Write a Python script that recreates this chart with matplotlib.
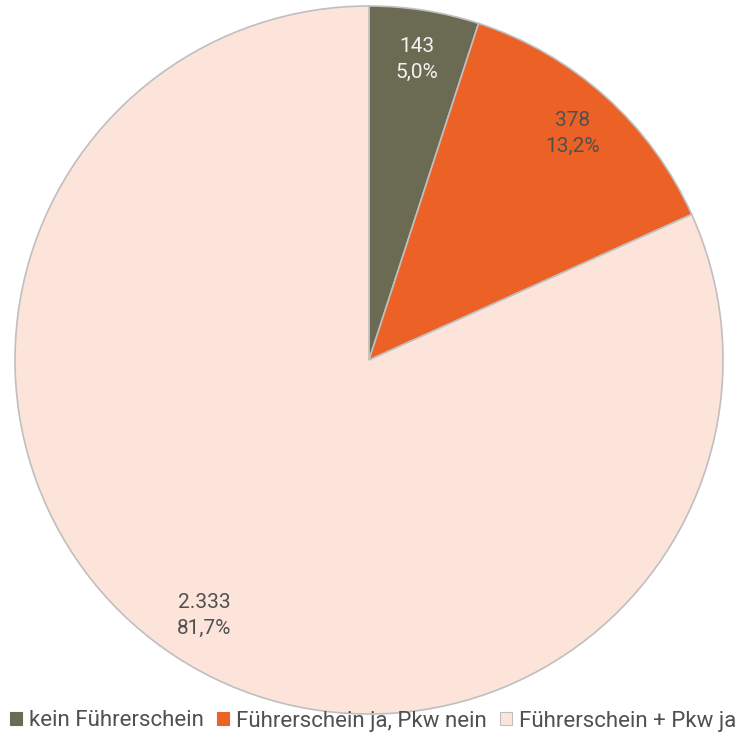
import matplotlib
matplotlib.use("Agg")
import matplotlib.pyplot as plt
from matplotlib.patches import Patch
import numpy as np

categories = ["kein Führerschein", "Führerschein ja, Pkw nein", "Führerschein + Pkw ja"]
values = [143, 378, 2333]
colors = ["#6B6A52", "#EB6126", "#FCE4DA"]
text_colors = ["#F2F2F2", "#505050", "#505050"]

total = sum(values)


def fmt(v):
    return f"{v:,}".replace(",", ".")


fig = plt.figure(figsize=(7.46, 7.40), dpi=100)
ax = fig.add_axes([15 / 746, 26 / 740, 708 / 746, 708 / 740])

wedges, texts = ax.pie(values, colors=colors, startangle=90, counterclock=False,
                       radius=1, wedgeprops=dict(edgecolor="#BFBFBF", linewidth=1.2))
ax.set_xlim(-1, 1)
ax.set_ylim(-1, 1)
ax.set_aspect("equal")
ax.axis("off")

angle = 90.0
for v, c in zip(values, text_colors):
    span = 360.0 * v / total
    mid = np.deg2rad(angle - span / 2)
    angle -= span
    r = 0.86
    pct = f"{100 * v / total:.1f}".replace(".", ",") + "%"
    ax.text(r * np.cos(mid), r * np.sin(mid), fmt(v) + "\n" + pct,
            ha="center", va="center", fontsize=15, color=c,
            family=["Roboto", "DejaVu Sans"], linespacing=1.45)

handles = [Patch(facecolor=col, edgecolor="#BFBFBF" if i == 2 else col, linewidth=0.8)
           for i, col in enumerate(colors)]
fig.legend(handles, categories, loc="center", bbox_to_anchor=(0.5, 19 / 740), ncol=3,
           frameon=False, handlelength=0.55, handleheight=0.55, handletextpad=0.3,
           columnspacing=0.6, borderaxespad=0,
           prop=dict(family=["Roboto", "DejaVu Sans"], size=16),
           labelcolor="#505050")

fig.savefig("out.png", dpi=100)
